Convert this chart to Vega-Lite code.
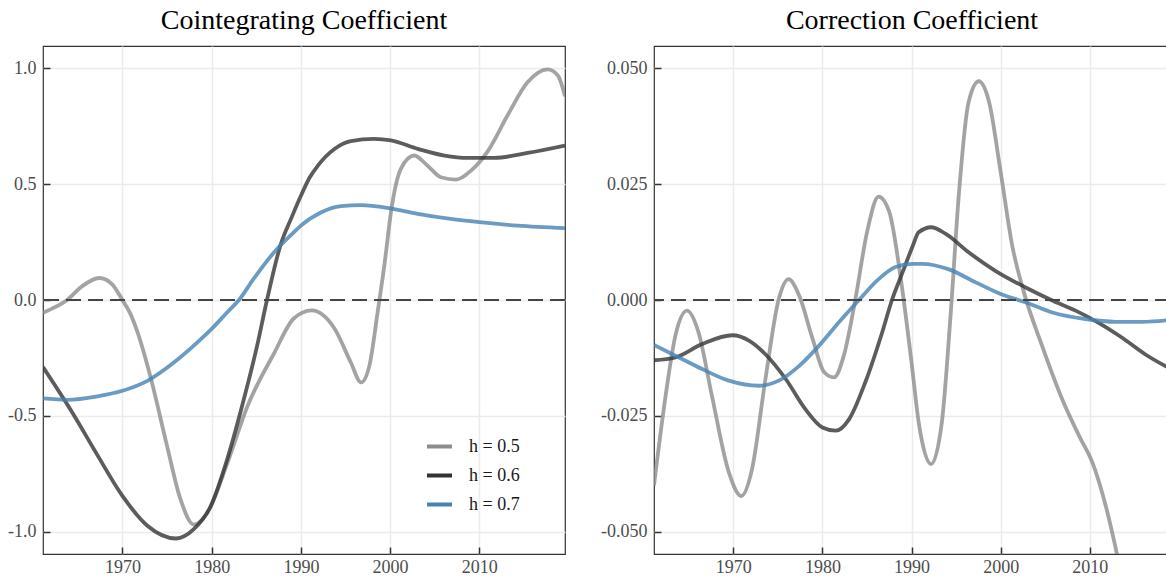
{
  "$schema": "https://vega.github.io/schema/vega-lite/v6.json",
  "padding": {"left": 6, "top": 6, "right": 0, "bottom": 0},
  "background": "white",
  "config": {
    "font": "Liberation Serif",
    "view": {"stroke": "#333333", "strokeWidth": 1.2},
    "axis": {"labelFont": "Liberation Serif", "labelFontSize": 18, "labelColor": "#4d4d4d", "tickColor": "#333333", "tickSize": -7, "tickWidth": 1.5, "labelPadding": 14, "domain": false, "gridColor": "#ebebeb", "gridWidth": 1.5, "title": null},
    "axisX": {"labelPadding": 11},
    "title": {"font": "Liberation Serif", "fontSize": 28, "fontWeight": "normal", "color": "#000000", "anchor": "middle", "offset": 11}
  },
  "spacing": 32,
  "resolve": {"legend": {"color": "independent"}},
  "datasets": {
    "left": [
      {"h":"h = 0.5","year":1961.1,"value":-0.055},{"h":"h = 0.5","year":1962.5,"value":-0.03},{"h":"h = 0.5","year":1963.8,"value":0.0},{"h":"h = 0.5","year":1965.5,"value":0.06},{"h":"h = 0.5","year":1967.4,"value":0.095},{"h":"h = 0.5","year":1968.8,"value":0.07},{"h":"h = 0.5","year":1970,"value":0.0},{"h":"h = 0.5","year":1970.9,"value":-0.06},{"h":"h = 0.5","year":1971.7,"value":-0.14},{"h":"h = 0.5","year":1973.2,"value":-0.34},{"h":"h = 0.5","year":1975.0,"value":-0.63},{"h":"h = 0.5","year":1976.5,"value":-0.86},{"h":"h = 0.5","year":1978.0,"value":-0.97},{"h":"h = 0.5","year":1979.5,"value":-0.92},{"h":"h = 0.5","year":1981.8,"value":-0.70},{"h":"h = 0.5","year":1984.0,"value":-0.46},{"h":"h = 0.5","year":1987.0,"value":-0.23},{"h":"h = 0.5","year":1989.2,"value":-0.08},{"h":"h = 0.5","year":1991.2,"value":-0.045},{"h":"h = 0.5","year":1993.8,"value":-0.125},{"h":"h = 0.5","year":1995.6,"value":-0.27},{"h":"h = 0.5","year":1996.75,"value":-0.356},{"h":"h = 0.5","year":1997.7,"value":-0.28},{"h":"h = 0.5","year":1998.6,"value":-0.053},{"h":"h = 0.5","year":1999.4,"value":0.163},{"h":"h = 0.5","year":2000.1,"value":0.38},{"h":"h = 0.5","year":2001.2,"value":0.566},{"h":"h = 0.5","year":2002.7,"value":0.624},{"h":"h = 0.5","year":2004.2,"value":0.58},{"h":"h = 0.5","year":2005.7,"value":0.53},{"h":"h = 0.5","year":2007.4,"value":0.52},{"h":"h = 0.5","year":2009.1,"value":0.56},{"h":"h = 0.5","year":2010.9,"value":0.64},{"h":"h = 0.5","year":2013.2,"value":0.80},{"h":"h = 0.5","year":2015.4,"value":0.94},{"h":"h = 0.5","year":2017.65,"value":0.996},{"h":"h = 0.5","year":2018.8,"value":0.97},{"h":"h = 0.5","year":2019.6,"value":0.88},
      {"h":"h = 0.6","year":1961.1,"value":-0.29},{"h":"h = 0.6","year":1964.6,"value":-0.50},{"h":"h = 0.6","year":1967.2,"value":-0.67},{"h":"h = 0.6","year":1970,"value":-0.846},{"h":"h = 0.6","year":1972.8,"value":-0.975},{"h":"h = 0.6","year":1976.0,"value":-1.03},{"h":"h = 0.6","year":1978.0,"value":-0.99},{"h":"h = 0.6","year":1979.9,"value":-0.89},{"h":"h = 0.6","year":1981.75,"value":-0.687},{"h":"h = 0.6","year":1983.6,"value":-0.43},{"h":"h = 0.6","year":1985.1,"value":-0.197},{"h":"h = 0.6","year":1986.2,"value":0.0},{"h":"h = 0.6","year":1987.7,"value":0.235},{"h":"h = 0.6","year":1989.0,"value":0.36},{"h":"h = 0.6","year":1990.0,"value":0.45},{"h":"h = 0.6","year":1991.0,"value":0.53},{"h":"h = 0.6","year":1991.9,"value":0.58},{"h":"h = 0.6","year":1993.8,"value":0.653},{"h":"h = 0.6","year":1995.6,"value":0.686},{"h":"h = 0.6","year":1998.2,"value":0.696},{"h":"h = 0.6","year":2000.1,"value":0.689},{"h":"h = 0.6","year":2003.1,"value":0.653},{"h":"h = 0.6","year":2006.1,"value":0.624},{"h":"h = 0.6","year":2008.7,"value":0.614},{"h":"h = 0.6","year":2011.7,"value":0.614},{"h":"h = 0.6","year":2015.4,"value":0.635},{"h":"h = 0.6","year":2019.6,"value":0.667},
      {"h":"h = 0.7","year":1961.1,"value":-0.425},{"h":"h = 0.7","year":1963.8,"value":-0.431},{"h":"h = 0.7","year":1967.2,"value":-0.416},{"h":"h = 0.7","year":1970,"value":-0.392},{"h":"h = 0.7","year":1972.8,"value":-0.349},{"h":"h = 0.7","year":1975.8,"value":-0.269},{"h":"h = 0.7","year":1978.4,"value":-0.183},{"h":"h = 0.7","year":1980,"value":-0.125},{"h":"h = 0.7","year":1981.75,"value":-0.053},{"h":"h = 0.7","year":1983.06,"value":0},{"h":"h = 0.7","year":1984.7,"value":0.091},{"h":"h = 0.7","year":1987.0,"value":0.206},{"h":"h = 0.7","year":1989.2,"value":0.292},{"h":"h = 0.7","year":1990.0,"value":0.321},{"h":"h = 0.7","year":1992.3,"value":0.379},{"h":"h = 0.7","year":1994.5,"value":0.405},{"h":"h = 0.7","year":1996.75,"value":0.41},{"h":"h = 0.7","year":2000,"value":0.396},{"h":"h = 0.7","year":2003.1,"value":0.372},{"h":"h = 0.7","year":2006.8,"value":0.35},{"h":"h = 0.7","year":2010,"value":0.336},{"h":"h = 0.7","year":2014.3,"value":0.321},{"h":"h = 0.7","year":2019.6,"value":0.31}
    ],
    "right": [
      {"h":"h = 0.5","year":1961.1,"value":-0.040},{"h":"h = 0.5","year":1962.4,"value":-0.0207},{"h":"h = 0.5","year":1963.5,"value":-0.0077},{"h":"h = 0.5","year":1964.8,"value":-0.0023},{"h":"h = 0.5","year":1966.1,"value":-0.007},{"h":"h = 0.5","year":1967.6,"value":-0.0207},{"h":"h = 0.5","year":1969.5,"value":-0.0372},{"h":"h = 0.5","year":1970.9,"value":-0.0423},{"h":"h = 0.5","year":1972.1,"value":-0.0365},{"h":"h = 0.5","year":1973.6,"value":-0.0171},{"h":"h = 0.5","year":1975.1,"value":0.0002},{"h":"h = 0.5","year":1976.2,"value":0.0045},{"h":"h = 0.5","year":1977.4,"value":0.0009},{"h":"h = 0.5","year":1978.9,"value":-0.0084},{"h":"h = 0.5","year":1980.2,"value":-0.0156},{"h":"h = 0.5","year":1981.3,"value":-0.0167},{"h":"h = 0.5","year":1982.4,"value":-0.012},{"h":"h = 0.5","year":1983.7,"value":0.0002},{"h":"h = 0.5","year":1985.0,"value":0.0146},{"h":"h = 0.5","year":1986.3,"value":0.0223},{"h":"h = 0.5","year":1987.5,"value":0.019},{"h":"h = 0.5","year":1988.8,"value":0.0045},{"h":"h = 0.5","year":1990.0,"value":-0.0135},{"h":"h = 0.5","year":1990.8,"value":-0.0264},{"h":"h = 0.5","year":1992.2,"value":-0.0354},{"h":"h = 0.5","year":1993.4,"value":-0.0264},{"h":"h = 0.5","year":1994.4,"value":-0.0027},{"h":"h = 0.5","year":1995.3,"value":0.0226},{"h":"h = 0.5","year":1996.4,"value":0.0427},{"h":"h = 0.5","year":1997.55,"value":0.0472},{"h":"h = 0.5","year":1998.7,"value":0.0427},{"h":"h = 0.5","year":2000,"value":0.0276},{"h":"h = 0.5","year":2001.3,"value":0.0117},{"h":"h = 0.5","year":2002.6,"value":0.0017},{"h":"h = 0.5","year":2004.65,"value":-0.0099},{"h":"h = 0.5","year":2006.9,"value":-0.0214},{"h":"h = 0.5","year":2008.8,"value":-0.0293},{"h":"h = 0.5","year":2010.3,"value":-0.0351},{"h":"h = 0.5","year":2011.8,"value":-0.0445},{"h":"h = 0.5","year":2013.1,"value":-0.0553},{"h":"h = 0.5","year":2014,"value":-0.064},
      {"h":"h = 0.6","year":1961.1,"value":-0.013},{"h":"h = 0.6","year":1963.5,"value":-0.0124},{"h":"h = 0.6","year":1966.5,"value":-0.0095},{"h":"h = 0.6","year":1969.9,"value":-0.0076},{"h":"h = 0.6","year":1971.8,"value":-0.0088},{"h":"h = 0.6","year":1973.6,"value":-0.0117},{"h":"h = 0.6","year":1975.9,"value":-0.0171},{"h":"h = 0.6","year":1978.1,"value":-0.0236},{"h":"h = 0.6","year":1980.0,"value":-0.0275},{"h":"h = 0.6","year":1981.5,"value":-0.0282},{"h":"h = 0.6","year":1983.0,"value":-0.0257},{"h":"h = 0.6","year":1984.8,"value":-0.0178},{"h":"h = 0.6","year":1986.7,"value":-0.007},{"h":"h = 0.6","year":1987.8,"value":0},{"h":"h = 0.6","year":1989.0,"value":0.006},{"h":"h = 0.6","year":1990.1,"value":0.0115},{"h":"h = 0.6","year":1990.8,"value":0.0146},{"h":"h = 0.6","year":1992.2,"value":0.0157},{"h":"h = 0.6","year":1993.8,"value":0.0143},{"h":"h = 0.6","year":1996.4,"value":0.0103},{"h":"h = 0.6","year":1999.4,"value":0.0063},{"h":"h = 0.6","year":2002.8,"value":0.0027},{"h":"h = 0.6","year":2005.8,"value":-0.0001},{"h":"h = 0.6","year":2008.4,"value":-0.0023},{"h":"h = 0.6","year":2010.6,"value":-0.0045},{"h":"h = 0.6","year":2013.6,"value":-0.0081},{"h":"h = 0.6","year":2016.2,"value":-0.0117},{"h":"h = 0.6","year":2019.0,"value":-0.0148},
      {"h":"h = 0.7","year":1961.1,"value":-0.0097},{"h":"h = 0.7","year":1963.9,"value":-0.0124},{"h":"h = 0.7","year":1966.5,"value":-0.0149},{"h":"h = 0.7","year":1969.5,"value":-0.0174},{"h":"h = 0.7","year":1972.9,"value":-0.0185},{"h":"h = 0.7","year":1975.1,"value":-0.0174},{"h":"h = 0.7","year":1977.4,"value":-0.0142},{"h":"h = 0.7","year":1979.6,"value":-0.0099},{"h":"h = 0.7","year":1981.85,"value":-0.0048},{"h":"h = 0.7","year":1984.1,"value":0},{"h":"h = 0.7","year":1986.3,"value":0.0045},{"h":"h = 0.7","year":1988.2,"value":0.0071},{"h":"h = 0.7","year":1990.1,"value":0.0078},{"h":"h = 0.7","year":1991.2,"value":0.0078},{"h":"h = 0.7","year":1994.2,"value":0.0066},{"h":"h = 0.7","year":1997.2,"value":0.0038},{"h":"h = 0.7","year":2000,"value":0.0013},{"h":"h = 0.7","year":2002.8,"value":-0.0005},{"h":"h = 0.7","year":2005.8,"value":-0.0027},{"h":"h = 0.7","year":2009.5,"value":-0.0041},{"h":"h = 0.7","year":2012.9,"value":-0.0047},{"h":"h = 0.7","year":2015.9,"value":-0.0047},{"h":"h = 0.7","year":2019.0,"value":-0.0043}
    ]
  },
  "hconcat": [
    {
      "title": "Cointegrating Coefficient",
      "width": 522,
      "height": 508,
      "layer": [
        {
          "data": {"name": "left"},
          "mark": {"type": "line", "interpolate": "monotone", "strokeWidth": 3.8, "opacity": 0.8, "clip": true},
          "encoding": {
            "x": {"field": "year", "type": "quantitative", "scale": {"domain": [1961.1, 2019.6], "nice": false, "zero": false}, "axis": {"values": [1970, 1980, 1990, 2000, 2010], "format": "d"}},
            "y": {"field": "value", "type": "quantitative", "scale": {"domain": [-1.097, 1.097], "nice": false, "zero": false}, "axis": {"values": [-1, -0.5, 0, 0.5, 1], "format": ".1f", "labelExpr": "replace(datum.label, '\u2212', '-')"}},
            "color": {"field": "h", "type": "nominal",
              "scale": {"domain": ["h = 0.5", "h = 0.6", "h = 0.7"], "range": ["#8c8c8c", "#333333", "#4682b4"]},
              "legend": {"title": null, "orient": "none", "legendX": 382, "legendY": 386, "symbolType": "stroke", "symbolSize": 625, "symbolStrokeWidth": 4, "symbolOpacity": 1, "labelFontSize": 18, "labelFont": "Liberation Serif", "labelColor": "#1a1a1a", "rowPadding": 5, "labelOffset": 15, "padding": 0}}
          }
        },
        {
          "data": {"values": [{"z": 0}]},
          "mark": {"type": "rule", "color": "#444444", "strokeWidth": 2, "strokeDash": [15, 7]},
          "encoding": {"y": {"field": "z", "type": "quantitative"}}
        }
      ]
    },
    {
      "title": "Correction Coefficient",
      "width": 516,
      "height": 508,
      "layer": [
        {
          "data": {"name": "right"},
          "mark": {"type": "line", "interpolate": "monotone", "strokeWidth": 3.8, "opacity": 0.8, "clip": true},
          "encoding": {
            "x": {"field": "year", "type": "quantitative", "scale": {"domain": [1961.1, 2019.0], "nice": false, "zero": false}, "axis": {"values": [1970, 1980, 1990, 2000, 2010], "format": "d"}},
            "y": {"field": "value", "type": "quantitative", "scale": {"domain": [-0.0548, 0.0548], "nice": false, "zero": false}, "axis": {"values": [-0.05, -0.025, 0, 0.025, 0.05], "format": ".3f", "labelExpr": "replace(datum.label, '\u2212', '-')"}},
            "color": {"field": "h", "type": "nominal",
              "scale": {"domain": ["h = 0.5", "h = 0.6", "h = 0.7"], "range": ["#8c8c8c", "#333333", "#4682b4"]},
              "legend": null}
          }
        },
        {
          "data": {"values": [{"z": 0}]},
          "mark": {"type": "rule", "color": "#444444", "strokeWidth": 2, "strokeDash": [15, 7]},
          "encoding": {"y": {"field": "z", "type": "quantitative"}}
        }
      ]
    }
  ]
}
